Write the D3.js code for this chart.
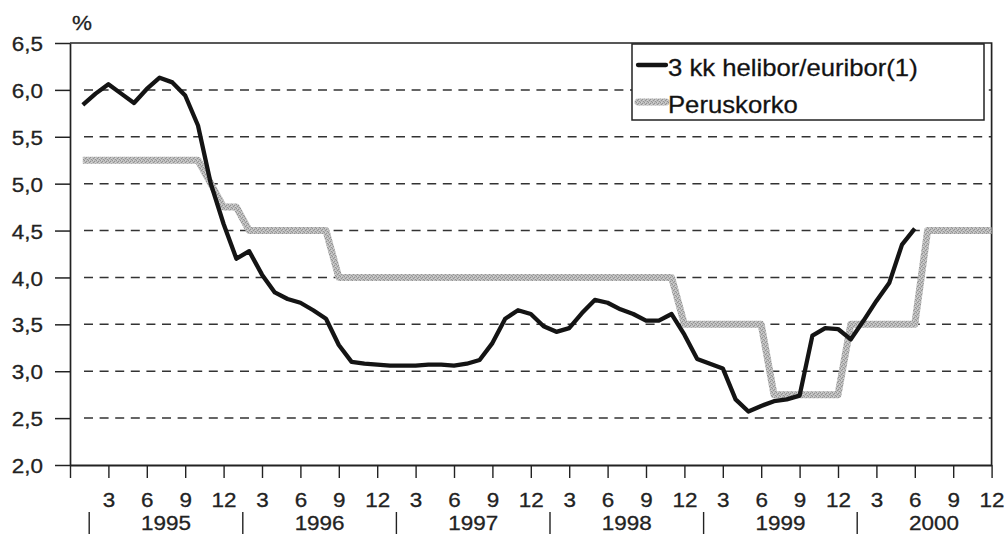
<!DOCTYPE html>
<html lang="fi">
<head>
<meta charset="UTF-8">
<title>3 kk helibor/euribor ja peruskorko</title>
<script src="https://cdn.jsdelivr.net/npm/d3@7"></script>
<style>
  body { margin: 0; background: #fff; }
  svg { display: block; font-family: "Liberation Sans", Arial, sans-serif; }
  text { stroke: #222; stroke-width: 0.3px; }
</style>
</head>
<body>
<svg id="chart" width="1005" height="534"></svg>
<script>
// monthly data, 1 = Jan 1995 ... 72 = Dec 2000
const helibor = [
  5.84, 5.96, 6.06, 5.96, 5.86, 6.01, 6.13, 6.08, 5.94, 5.62, 5.00, 4.57,
  4.20, 4.28, 4.03, 3.84, 3.77, 3.73, 3.65, 3.56, 3.28, 3.10, 3.08, 3.07,
  3.06, 3.06, 3.06, 3.07, 3.07, 3.06, 3.08, 3.12, 3.30, 3.56, 3.65, 3.61,
  3.48, 3.42, 3.46, 3.62, 3.76, 3.73, 3.66, 3.61, 3.54, 3.54, 3.61, 3.39,
  3.13, 3.08, 3.03, 2.70, 2.57, 2.63, 2.68, 2.70, 2.74, 3.38, 3.46, 3.45,
  3.34, 3.54, 3.75, 3.94, 4.35, 4.52
];
const peruskorko = [
  5.25, 5.25, 5.25, 5.25, 5.25, 5.25, 5.25, 5.25, 5.25, 5.25, 5.00, 4.75,
  4.75, 4.50, 4.50, 4.50, 4.50, 4.50, 4.50, 4.50, 4.00, 4.00, 4.00, 4.00,
  4.00, 4.00, 4.00, 4.00, 4.00, 4.00, 4.00, 4.00, 4.00, 4.00, 4.00, 4.00,
  4.00, 4.00, 4.00, 4.00, 4.00, 4.00, 4.00, 4.00, 4.00, 4.00, 4.00, 3.50,
  3.50, 3.50, 3.50, 3.50, 3.50, 3.50, 2.75, 2.75, 2.75, 2.75, 2.75, 2.75,
  3.50, 3.50, 3.50, 3.50, 3.50, 3.50, 4.50, 4.50, 4.50, 4.50, 4.50, 4.50
];
const years = [1995, 1996, 1997, 1998, 1999, 2000];
const yTicks = [2.0, 2.5, 3.0, 3.5, 4.0, 4.5, 5.0, 5.5, 6.0, 6.5];
const monthTicks = d3.range(0, 73, 3);
const seriesNames = ["3 kk helibor/euribor(1)", "Peruskorko"];

const ink = "#222";
const stretch = 1.07; // scanned text is a bit wider than it is tall

const svg = d3.select("#chart");
const plotLeft = 70, plotRight = 991.6, plotTop = 43, plotBottom = 465;

const x = d3.scaleLinear().domain([0, 72]).range([plotLeft, plotRight]);
const y = d3.scaleLinear().domain([2, 6.5]).range([plotBottom, plotTop]);

// grainy grey fill for the base rate line
const defs = svg.append("defs");
const tex = defs.append("pattern")
    .attr("id", "tex")
    .attr("patternUnits", "userSpaceOnUse")
    .attr("width", 4).attr("height", 4);
tex.append("rect").attr("width", 4).attr("height", 4).attr("fill", "#bcbcbc");
[[0, 0], [2, 1], [1, 2], [3, 3]].forEach(([a, b]) =>
    tex.append("rect").attr("x", a).attr("y", b).attr("width", 1).attr("height", 1).attr("fill", "#939393"));
[[1, 0], [3, 2]].forEach(([a, b]) =>
    tex.append("rect").attr("x", a).attr("y", b).attr("width", 1).attr("height", 1).attr("fill", "#d4d4d4"));

const stretchText = (sel, dx, dy) =>
    sel.attr("x", null).attr("y", null)
       .attr("transform", `translate(${dx},${dy}) scale(${stretch},1)`);

// dashed grid
svg.append("g")
    .selectAll("line")
    .data(yTicks.filter(d => d > 2 && d < 6.5))
    .join("line")
    .attr("x1", x(0) + 14).attr("x2", x(72))
    .attr("y1", d => y(d)).attr("y2", d => y(d))
    .attr("stroke", "#333")
    .attr("stroke-width", 1.5)
    .attr("stroke-dasharray", "9 6.6");

// top + right frame
svg.append("path")
    .attr("d", `M${x(0)},${y(6.5)}H${x(72)}V${y(2)}`)
    .attr("fill", "none")
    .attr("stroke", ink)
    .attr("stroke-width", 1.7);

// y axis
const yAxis = svg.append("g")
    .attr("transform", `translate(${plotLeft},0)`)
    .call(d3.axisLeft(y).tickValues(yTicks).tickSize(15).tickSizeOuter(0)
        .tickFormat(d => d3.format(".1f")(d).replace(".", ",")));
yAxis.select(".domain").attr("stroke-width", 1.7);
yAxis.selectAll(".tick line").attr("stroke-width", 1.5);
yAxis.selectAll("text")
    .attr("font-size", 21).attr("fill", ink).attr("dy", "0.36em")
    .call(stretchText, -27, 0);

// x axis
const xAxis = svg.append("g")
    .attr("transform", `translate(0,${plotBottom})`)
    .call(d3.axisBottom(x).tickValues(monthTicks).tickSize(13).tickSizeOuter(0)
        .tickFormat(m => m === 0 ? "" : (m - 1) % 12 + 1));
xAxis.select(".domain").attr("stroke-width", 2);
xAxis.selectAll(".tick line").attr("stroke-width", 1.4);
xAxis.selectAll("text")
    .attr("font-size", 21).attr("fill", ink).attr("dy", null)
    .call(stretchText, 0, 42);
svg.selectAll(".domain, .tick line").attr("stroke", ink);

// years under the months
const yearG = svg.append("g");
yearG.selectAll("line")
    .data(years)
    .join("line")
    .attr("x1", (d, i) => x(i * 12 + 1.5)).attr("x2", (d, i) => x(i * 12 + 1.5))
    .attr("y1", 512).attr("y2", 534)
    .attr("stroke", ink).attr("stroke-width", 1.4);
yearG.selectAll("text")
    .data(years)
    .join("text")
    .attr("text-anchor", "middle")
    .attr("font-size", 21).attr("fill", ink)
    .text(d => d)
    .each(function (d, i) { stretchText(d3.select(this), x(i * 12 + 7.5), 529.5); });

// unit
svg.append("text")
    .attr("font-size", 21).attr("fill", ink)
    .text("%")
    .call(stretchText, 72, 30);

// lines
const line = d3.line()
    .x((d, i) => x(i + 1))
    .y(d => y(d));

svg.append("path")
    .datum(peruskorko)
    .attr("d", line)
    .attr("fill", "none")
    .attr("stroke", "url(#tex)")
    .attr("stroke-width", 7)
    .attr("stroke-linejoin", "round");

svg.append("path")
    .datum(helibor)
    .attr("d", line)
    .attr("fill", "none")
    .attr("stroke", "#141414")
    .attr("stroke-width", 4.3)
    .attr("stroke-linejoin", "round");

// legend
const legend = svg.append("g").attr("transform", "translate(632,44)");
legend.append("rect")
    .attr("width", 352).attr("height", 76)
    .attr("fill", "#fff")
    .attr("stroke", ink).attr("stroke-width", 1.5);
const items = legend.selectAll("g.item")
    .data(seriesNames)
    .join("g")
    .attr("class", "item")
    .attr("transform", (d, i) => `translate(0,${21 + i * 37})`);
items.append("line")
    .attr("x1", 6).attr("x2", 34)
    .attr("stroke", (d, i) => i === 0 ? "#141414" : "url(#tex)")
    .attr("stroke-width", (d, i) => i === 0 ? 4.3 : 7)
    .attr("stroke-linecap", "round");
items.append("text")
    .attr("font-size", 24).attr("fill", "#111")
    .text(d => d)
    .call(stretchText, 36, 10.5);
</script>
</body>
</html>
